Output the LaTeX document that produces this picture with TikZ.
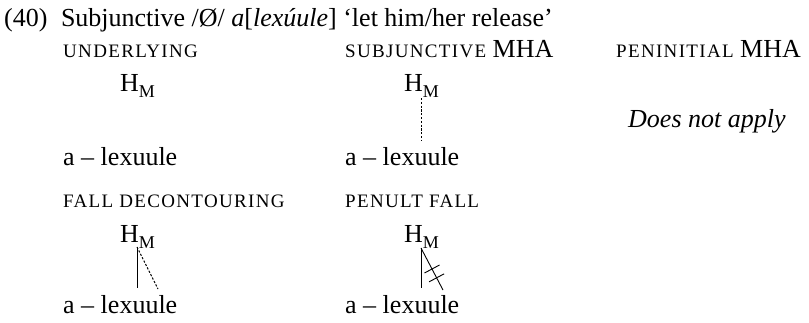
\documentclass[tikz,border=0pt]{standalone}
\usepackage{fontspec}
\setmainfont{Liberation Serif}
\newfontfamily\scfont[LetterSpace=7]{Liberation Serif}
\usetikzlibrary{calc}
\newcommand{\hm}{H\raisebox{-6pt}{\fontsize{18}{20}\selectfont M}}
\newcommand{\stagesc}[1]{{\scfont\fontsize{19}{21}\selectfont #1}}
\tikzset{
  txt/.style={inner sep=0pt, anchor=base west, font=\fontsize{26}{30}\selectfont},
  tone/.style={inner sep=0pt, anchor=base west, font=\fontsize{26}{30}\selectfont},
  assoc/.style={line width=0.9pt},
  newassoc/.style={line width=0.9pt, dash pattern=on 2.2pt off 1.6pt},
  delink/.style={line width=0.9pt}
}
\begin{document}
\begin{tikzpicture}[x=1pt,y=-1pt]
\useasboundingbox (0,0) rectangle (809,322);

% example heading
\node[txt] (title) at (4,26) {(40)\hspace{7pt} Subjunctive /Ø/ \textit{a}[\textit{lexúule}] ‘let him/her release’};

% stage labels, first row
\node[txt] (l1) at (63,57) {\stagesc{UNDERLYING}};
\node[txt] (l2) at (345,57) {\stagesc{SUBJUNCTIVE} MHA};
\node[txt] (l3) at (616,57) {\stagesc{PENINITIAL} MHA};

% underlying form
\node[tone] (h1) at (120,91) {\hm};
\node[txt] (w1) at (63,165) {a – lexuule};

% subjunctive MHA
\node[tone] (h2) at (404,91) {\hm};
\node[txt] (w2) at (345,165) {a – lexuule};
\coordinate (h2b) at (421,98);
\coordinate (w2t) at (421,140);
\draw[newassoc] (h2b) -- (w2t);

% peninitial MHA
\node[txt, font=\fontsize{26}{30}\selectfont\itshape] (na) at (628,127) {Does not apply};

% stage labels, second row
\node[txt] (l4) at (63,207) {\stagesc{FALL DECONTOURING}};
\node[txt] (l5) at (345,207) {\stagesc{PENULT FALL}};

% fall decontouring
\node[tone] (h3) at (120,242) {\hm};
\node[txt] (w3) at (63,313) {a – lexuule};
\coordinate (h3b) at (137,247);
\coordinate (w3a) at (137,288);
\coordinate (w3b) at (158,289);
\draw[assoc] (h3b) -- (w3a);
\draw[newassoc] (h3b) -- (w3b);

% penult fall
\node[tone] (h4) at (404,242) {\hm};
\node[txt] (w4) at (345,313) {a – lexuule};
\coordinate (h4b) at (421,248);
\coordinate (w4a) at (421,288);
\coordinate (w4b) at (443,290);
\draw[assoc] (h4b) -- (w4a);
\draw[assoc] (h4b) -- (w4b);
\coordinate (d1) at ($(h4b)!0.5!(w4b)$);
\coordinate (d2) at ($(h4b)!0.71!(w4b)$);
\draw[delink] ($(d1)+(-7.5,4)$) -- ($(d1)+(7.5,-4)$);
\draw[delink] ($(d2)+(-7.5,4)$) -- ($(d2)+(7.5,-4)$);
\end{tikzpicture}
\end{document}
